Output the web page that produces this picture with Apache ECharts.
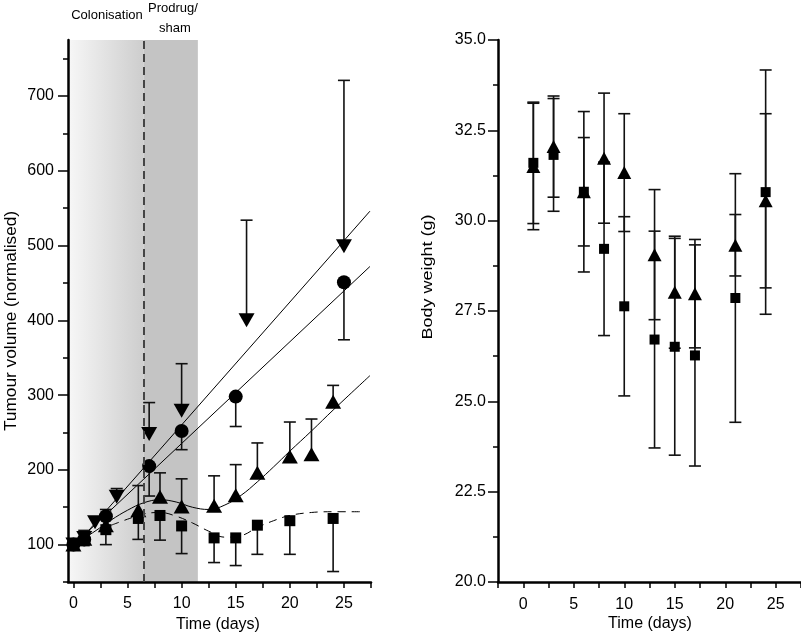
<!DOCTYPE html>
<html><head><meta charset="utf-8">
<script src="https://cdn.jsdelivr.net/npm/echarts@6/dist/echarts.min.js"></script>
<style>html,body{margin:0;padding:0;background:#fff}#c{width:801px;height:635px}</style>
</head><body><div id="c"></div>
<script>
// ===== Left panel: tumour volume (normalised) =====
const volXTicks = [0, 2.5, 5, 7.5, 10, 12.5, 15, 17.5, 20, 22.5, 25, 27.5];
const volXLabels = [0, 5, 10, 15, 20, 25];
const volYLabels = [100, 200, 300, 400, 500, 600, 700];
const volYMinor = [50, 150, 250, 350, 450, 550, 650, 750];
const colonisationEnd = 6.5;
const treatmentEnd = 11.5;

// down-pointing triangles (upper error bars)
const downDays = [0, 1, 2, 4, 7, 10, 16, 25];
const downVol = [100, 109, 130, 164, 248, 279, 400, 499];
const downErrTop = [100, 109, 130, 175, 290, 342, 534, 721];
// circles (lower error bars)
const circDays = [0, 1, 3, 7, 10, 15, 25];
const circVol = [100, 107, 138, 205, 252, 298, 451];
const circErrBot = [100, 107, 138, 165, 227, 258, 374];
// up-pointing triangles (upper error bars)
const upDays = [0, 1, 3, 6, 8, 10, 13, 15, 17, 20, 22, 24];
const upVol = [100, 108, 126, 146, 164, 151, 152, 166, 196, 218, 221, 291];
const upErrTop = [100, 119, 147, 179, 196, 188, 192, 207, 236, 264, 268, 313];
// squares (lower error bars)
const sqDays = [0, 1, 3, 6, 8, 10, 13, 15, 17, 20, 24];
const sqVol = [100, 105, 120, 135, 139, 125, 109, 109, 126, 132, 135];
const sqErrBot = [100, 105, 100, 107, 106, 88, 76, 72, 87, 87, 64];

// fitted curves
const fitDownX = [0.5, 27.4];
const fitDownY = [104, 546];
const fitCircX = [0.5, 27.4];
const fitCircY = [106, 472];
const fitUpX = [0.5, 2, 3.5, 5, 6.5, 8, 9.5, 11, 12.5, 14, 15.5, 17, 18.5, 20, 22, 24, 27.4];
const fitUpY = [104, 118, 133, 146, 156, 160, 157, 150, 147, 153, 166, 184, 204, 225, 252, 280, 326];
const fitSqX = [3.5, 5, 6.5, 8, 9.5, 11, 12.5, 14, 15.5, 17, 18.5, 20, 22, 24, 26.5];
const fitSqY = [126, 134, 141, 143, 138, 129, 118, 110, 112, 123, 132, 139, 143, 144, 144];

// ===== Right panel: body weight =====
const bwDays = [1, 3, 6, 8, 10, 13, 15, 17, 21, 24];
const bwSquare = [31.60, 31.82, 30.80, 29.22, 27.63, 26.71, 26.51, 26.27, 27.86, 30.79];
const bwSquareErr = [1.68, 1.56, 1.50, 2.40, 2.48, 3.00, 3.00, 3.06, 3.44, 3.38];
const bwTri = [31.50, 32.05, 30.80, 31.73, 31.33, 29.06, 28.02, 27.98, 29.32, 30.55];
const bwTriErr = [1.75, 1.40, 2.22, 1.80, 1.63, 1.80, 1.55, 1.50, 0.85, 2.41];

const FONT = '"Liberation Sans", Arial, Helvetica, sans-serif';
const zip = (xs, ys) => xs.map((x, i) => [x, ys[i]]);
const oneSided = (xs, from, to) => xs.map((x, i) => [x, from[i], to[i]]).filter(d => d[1] !== d[2]);
const twoSided = (xs, m, e) => xs.map((x, i) => [x, m[i] - e[i], m[i] + e[i]]);

const barStyle = {stroke: '#111', lineWidth: 1.6};
function renderOne(params, api) {
  const x = api.value(0);
  const a = api.coord([x, api.value(1)]), b = api.coord([x, api.value(2)]);
  const w = 6;
  return {type: 'group', children: [
    {type: 'line', shape: {x1: a[0], y1: a[1], x2: b[0], y2: b[1]}, style: barStyle},
    {type: 'line', shape: {x1: b[0] - w, y1: b[1], x2: b[0] + w, y2: b[1]}, style: barStyle}
  ]};
}
function renderTwo(params, api) {
  const x = api.value(0);
  const a = api.coord([x, api.value(1)]), b = api.coord([x, api.value(2)]);
  const w = 6;
  return {type: 'group', children: [
    {type: 'line', shape: {x1: a[0], y1: a[1], x2: b[0], y2: b[1]}, style: barStyle},
    {type: 'line', shape: {x1: a[0] - w, y1: a[1], x2: a[0] + w, y2: a[1]}, style: barStyle},
    {type: 'line', shape: {x1: b[0] - w, y1: b[1], x2: b[0] + w, y2: b[1]}, style: barStyle}
  ]};
}

const axisLine = {show: true, onZero: false, lineStyle: {color: '#000', width: 2.5}};
const tickStyle = {color: '#000', width: 1.5};
const lab = {color: '#000', fontSize: 16, fontFamily: FONT};
const mark = {color: '#000', opacity: 1};

const chart = echarts.init(document.getElementById('c'));
chart.setOption({
  animation: false,
  backgroundColor: '#fff',
  grid: [
    {left: 68, top: 40, width: 303, height: 542, outerBoundsMode: 'none'},
    {left: 498, top: 40, width: 303, height: 542, outerBoundsMode: 'none'}
  ],
  xAxis: [
    {gridIndex: 0, type: 'value', min: -0.5, max: 27.5, axisLine: axisLine,
     axisTick: {show: true, customValues: volXTicks, length: 6, lineStyle: tickStyle},
     axisLabel: Object.assign({customValues: volXLabels, margin: 14}, lab),
     splitLine: {show: false}},
    {gridIndex: 1, type: 'value', min: -2.5, max: 27.5, interval: 2.5, axisLine: axisLine,
     axisTick: {show: true, length: 6, lineStyle: tickStyle},
     axisLabel: Object.assign({margin: 15, formatter: v => (Math.abs(v % 5) < 1e-9 ? String(v) : '')}, lab),
     splitLine: {show: false}}
  ],
  yAxis: [
    {gridIndex: 0, type: 'value', position: 'left', min: 50, max: 775, axisLine: axisLine,
     axisTick: {show: true, customValues: volYLabels, length: 10, lineStyle: tickStyle},
     axisLabel: Object.assign({customValues: volYLabels, margin: 14}, lab),
     splitLine: {show: false}},
    {gridIndex: 0, type: 'value', position: 'left', offset: 0, min: 50, max: 775,
     axisLine: {show: false, onZero: false},
     axisTick: {show: true, customValues: volYMinor, length: 5, lineStyle: tickStyle},
     axisLabel: {show: false}, splitLine: {show: false}},
    {gridIndex: 1, type: 'value', min: 20, max: 35, interval: 2.5, axisLine: axisLine,
     axisTick: {show: true, length: 10, lineStyle: tickStyle},
     minorTick: {show: true, splitNumber: 2, length: 5, lineStyle: tickStyle},
     axisLabel: Object.assign({margin: 12, formatter: v => v.toFixed(1)}, lab),
     splitLine: {show: false}}
  ],
  graphic: [
    {type: 'text', x: 12, y: 321, rotation: Math.PI / 2, scaleX: 1.08,
     style: {text: 'Tumour volume (normalised)', font: '16px ' + FONT, fill: '#000', align: 'center', verticalAlign: 'middle'}},
    {type: 'text', x: 428, y: 277, rotation: Math.PI / 2, scaleX: 1.2,
     style: {text: 'Body weight (g)', font: '15px ' + FONT, fill: '#000', align: 'center', verticalAlign: 'middle'}},
    {type: 'text', x: 218, y: 625, style: {text: 'Time (days)', font: '16px ' + FONT, fill: '#000', align: 'center', verticalAlign: 'middle'}},
    {type: 'text', x: 650, y: 624, style: {text: 'Time (days)', font: '16px ' + FONT, fill: '#000', align: 'center', verticalAlign: 'middle'}},
    {type: 'text', x: 107, y: 15, style: {text: 'Colonisation', font: '13px ' + FONT, fill: '#000', align: 'center', verticalAlign: 'middle'}},
    {type: 'text', x: 173, y: 8, style: {text: 'Prodrug/', font: '13px ' + FONT, fill: '#000', align: 'center', verticalAlign: 'middle'}},
    {type: 'text', x: 175, y: 28, style: {text: 'sham', font: '13px ' + FONT, fill: '#000', align: 'center', verticalAlign: 'middle'}}
  ],
  series: [
    // shading + phase divider
    {type: 'line', xAxisIndex: 0, yAxisIndex: 0, data: [], silent: true, z: 0,
     markArea: {silent: true, z: 0, data: [
       [{xAxis: -0.5, itemStyle: {color: {type: 'linear', x: 0, y: 0, x2: 1, y2: 0,
          colorStops: [{offset: 0, color: '#f7f7f7'}, {offset: 1, color: '#cdcdcd'}]}}}, {xAxis: colonisationEnd}],
       [{xAxis: colonisationEnd, itemStyle: {color: '#c4c4c4'}}, {xAxis: treatmentEnd}]
     ]},
     markLine: {silent: true, symbol: 'none', label: {show: false},
       lineStyle: {color: '#444', width: 2, type: [8, 5]}, data: [{xAxis: colonisationEnd}]}},
    // fitted curves
    {type: 'line', xAxisIndex: 0, yAxisIndex: 0, data: zip(fitDownX, fitDownY), showSymbol: false, symbol: 'none',
     lineStyle: {color: '#000', width: 1}, z: 2},
    {type: 'line', xAxisIndex: 0, yAxisIndex: 0, data: zip(fitCircX, fitCircY), showSymbol: false, symbol: 'none',
     lineStyle: {color: '#000', width: 1}, z: 2},
    {type: 'line', xAxisIndex: 0, yAxisIndex: 0, data: zip(fitUpX, fitUpY), showSymbol: false, symbol: 'none', smooth: 0.4,
     lineStyle: {color: '#000', width: 1}, z: 2},
    {type: 'line', xAxisIndex: 0, yAxisIndex: 0, data: zip(fitSqX, fitSqY), showSymbol: false, symbol: 'none', smooth: 0.4,
     lineStyle: {color: '#000', width: 1, type: [8, 6]}, z: 2},
    // error bars (left)
    {type: 'custom', xAxisIndex: 0, yAxisIndex: 0, renderItem: renderOne, data: oneSided(downDays, downVol, downErrTop), z: 3},
    {type: 'custom', xAxisIndex: 0, yAxisIndex: 0, renderItem: renderOne, data: oneSided(circDays, circVol, circErrBot), z: 3},
    {type: 'custom', xAxisIndex: 0, yAxisIndex: 0, renderItem: renderOne, data: oneSided(upDays, upVol, upErrTop), z: 3},
    {type: 'custom', xAxisIndex: 0, yAxisIndex: 0, renderItem: renderOne, data: oneSided(sqDays, sqVol, sqErrBot), z: 3},
    // markers (left)
    {type: 'scatter', xAxisIndex: 0, yAxisIndex: 0, data: zip(sqDays, sqVol), symbol: 'rect', symbolSize: 11,
     itemStyle: mark, z: 4},
    {type: 'scatter', xAxisIndex: 0, yAxisIndex: 0, data: zip(circDays, circVol), symbol: 'circle', symbolSize: 14,
     itemStyle: mark, z: 4},
    {type: 'scatter', xAxisIndex: 0, yAxisIndex: 0, data: zip(upDays, upVol), symbol: 'triangle', symbolSize: [16, 14],
     itemStyle: mark, z: 4},
    {type: 'scatter', xAxisIndex: 0, yAxisIndex: 0, data: zip(downDays, downVol), symbol: 'triangle', symbolRotate: 180, symbolSize: [16, 14],
     itemStyle: mark, z: 4},
    // right panel
    {type: 'custom', xAxisIndex: 1, yAxisIndex: 2, renderItem: renderTwo, data: twoSided(bwDays, bwSquare, bwSquareErr), z: 3},
    {type: 'custom', xAxisIndex: 1, yAxisIndex: 2, renderItem: renderTwo, data: twoSided(bwDays, bwTri, bwTriErr), z: 3},
    {type: 'scatter', xAxisIndex: 1, yAxisIndex: 2, data: zip(bwDays, bwSquare), symbol: 'rect', symbolSize: 10,
     itemStyle: mark, z: 4},
    {type: 'scatter', xAxisIndex: 1, yAxisIndex: 2, data: zip(bwDays, bwTri), symbol: 'triangle', symbolSize: [14, 13],
     itemStyle: mark, z: 4}
  ]
});
</script></body></html>
